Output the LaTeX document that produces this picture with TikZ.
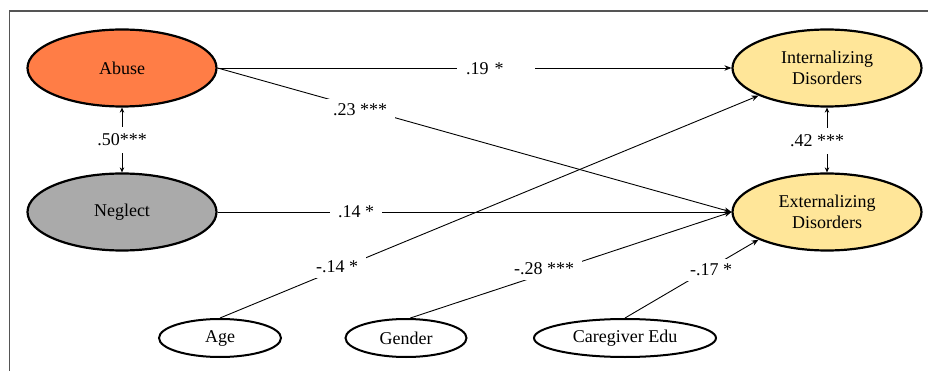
\documentclass[tikz,border=0pt]{standalone}
\usepackage{fontspec}
\setmainfont{Liberation Serif}
\usetikzlibrary{shapes.geometric,arrows.meta}
\definecolor{abusecol}{RGB}{255,125,70}
\definecolor{neglectcol}{RGB}{170,170,170}
\definecolor{discol}{RGB}{255,230,153}
\definecolor{framecol}{RGB}{85,85,85}
\tikzset{
  big/.style={ellipse, draw=black, line width=2.2pt, minimum width=189pt, minimum height=77pt, inner sep=0pt, align=center, font=\fontsize{18}{21}\selectfont},
  small/.style={ellipse, draw=black, line width=2pt, minimum height=38pt, inner sep=0pt, fill=white, font=\fontsize{18}{21}\selectfont},
  arr/.style={line width=0.9pt, -{Stealth[length=7pt,width=5.5pt]}},
  arrtwo/.style={line width=0.9pt, {Stealth[length=5pt,width=4.5pt]}-{Stealth[length=5pt,width=4.5pt]}},
  lab/.style={fill=white, inner xsep=8pt, inner ysep=5pt, font=\fontsize{18}{21}\selectfont}
}
\begin{document}
\begin{tikzpicture}[x=1pt,y=-1pt]
\useasboundingbox (0,0) rectangle (928,371);
\draw[framecol, line width=1.6pt] (9.5,372) -- (9.5,11) -- (929,11);
% nodes
\node[big, fill=abusecol] (abuse) at (122,68) {Abuse};
\node[big, fill=neglectcol] (neglect) at (122,212) {Neglect};
\node[big, fill=discol] (int) at (827,68) {Internalizing\\Disorders};
\node[big, fill=discol] (ext) at (827,212) {Externalizing\\Disorders};
\node[small, minimum width=122pt] (age) at (220,338) {Age};
\node[small, minimum width=121pt] (gender) at (406,338) {Gender};
\node[small, minimum width=182pt] (edu) at (625,338) {Caregiver Edu};
% connectors
\draw[arr] (abuse.east) -- (int.west);
\draw[arr] (abuse.east) -- (ext.west);
\draw[arr] (neglect.east) -- (ext.west);
\draw[arr] (age.north) -- (int.202);
\draw[arr] (gender.78) -- (ext.west);
\draw[arr] (edu.north) -- (ext.202);
\draw[arrtwo] (abuse.south) -- (neglect.north);
\draw[arrtwo] (int.south) -- (ext.north);
% labels
\node[lab, anchor=west, text width=60pt, inner xsep=9pt, align=left] (l19) at (457,69) {.19 *};
\node[lab] (l23) at (360,110) {.23 ***};
\node[lab] (l14) at (356,212) {.14 *};
\node[lab] (lm14) at (337,267) {-.14 *};
\node[lab] (lm28) at (544,269) {-.28 ***};
\node[lab, inner xsep=4pt] (lm17) at (711,270) {-.17 *};
\node[lab, inner xsep=2pt, inner ysep=7pt] (l50) at (122,140) {.50***};
\node[lab, inner xsep=2pt, inner ysep=7pt] (l42) at (817,141) {.42 ***};
\end{tikzpicture}
\end{document}
